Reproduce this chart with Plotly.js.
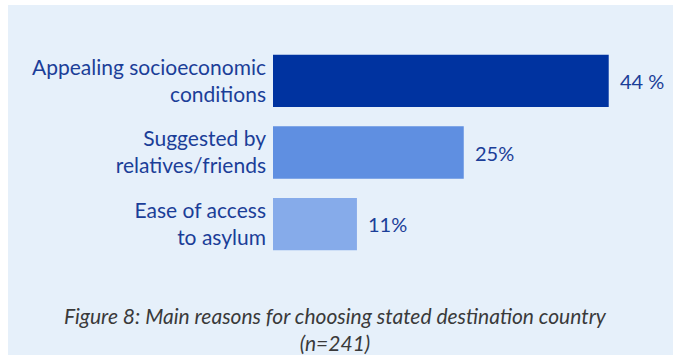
<!DOCTYPE html>
<html>
<head>
<meta charset="utf-8">
<script src="https://cdn.plot.ly/plotly-3.0.1.min.js"></script>
<style>
  html, body { margin: 0; padding: 0; background: #ffffff; }
  #chart { width: 673px; height: 355px; }
</style>
</head>
<body>
<div id="chart"></div>
<script>
const categories = ["Appealing socioeconomic<br>conditions", "Suggested by<br>relatives/friends", "Ease of access<br>to asylum"];
const values = [44, 25, 11];
const valueLabels = ["44 %", "25%", "11%"];
const barColors = ["#0033A0", "#5F8FE1", "#86ABEA"];
const caption = "Figure 8: Main reasons for choosing stated destination country<br>(n=241)";

const W = 673, H = 355;
const m = {l: 273, r: 0, t: 45, b: 95};
const pw = W - m.l - m.r, ph = H - m.t - m.b;
const px2x = p => (p - m.l) / pw;
const px2y = p => (H - m.b - p) / ph;

const textColor = "#1B3E98";
const fontFam = "Lato, 'Open Sans', sans-serif";

const trace = {
  type: "bar",
  orientation: "h",
  y: categories,
  x: values,
  marker: {color: barColors, line: {width: 0}},
  hoverinfo: "none"
};

const annotations = values.map((v, i) => ({
  x: v, y: categories[i], xref: "x", yref: "y",
  text: valueLabels[i], showarrow: false,
  xanchor: "left", yanchor: "middle", xshift: 9,
  font: {family: fontFam, size: 20, color: textColor}
}));
annotations.push({
  x: px2x(335), y: px2y(329), xref: "paper", yref: "paper",
  text: caption, showarrow: false, xanchor: "center", yanchor: "middle",
  font: {family: fontFam, size: 21, color: "#3A3A3A", style: "italic"}
});

const layout = {
  width: W, height: H,
  margin: m,
  paper_bgcolor: "#ffffff",
  plot_bgcolor: "rgba(0,0,0,0)",
  showlegend: false,
  bargap: 0.27,
  xaxis: {range: [0, 400 / 7.63], visible: false, fixedrange: true},
  yaxis: {
    autorange: "reversed", showgrid: false, zeroline: false, showline: false,
    ticks: "", ticklabelstandoff: 6,
    tickfont: {family: fontFam, size: 21, color: textColor}
  },
  shapes: [{
    type: "rect", xref: "paper", yref: "paper", layer: "below",
    x0: px2x(8), x1: px2x(680), y0: px2y(360), y1: px2y(5),
    fillcolor: "#E6F0FA", line: {width: 0}
  }],
  annotations: annotations
};

Plotly.newPlot("chart", [trace], layout, {displayModeBar: false, staticPlot: true});
</script>
</body>
</html>
